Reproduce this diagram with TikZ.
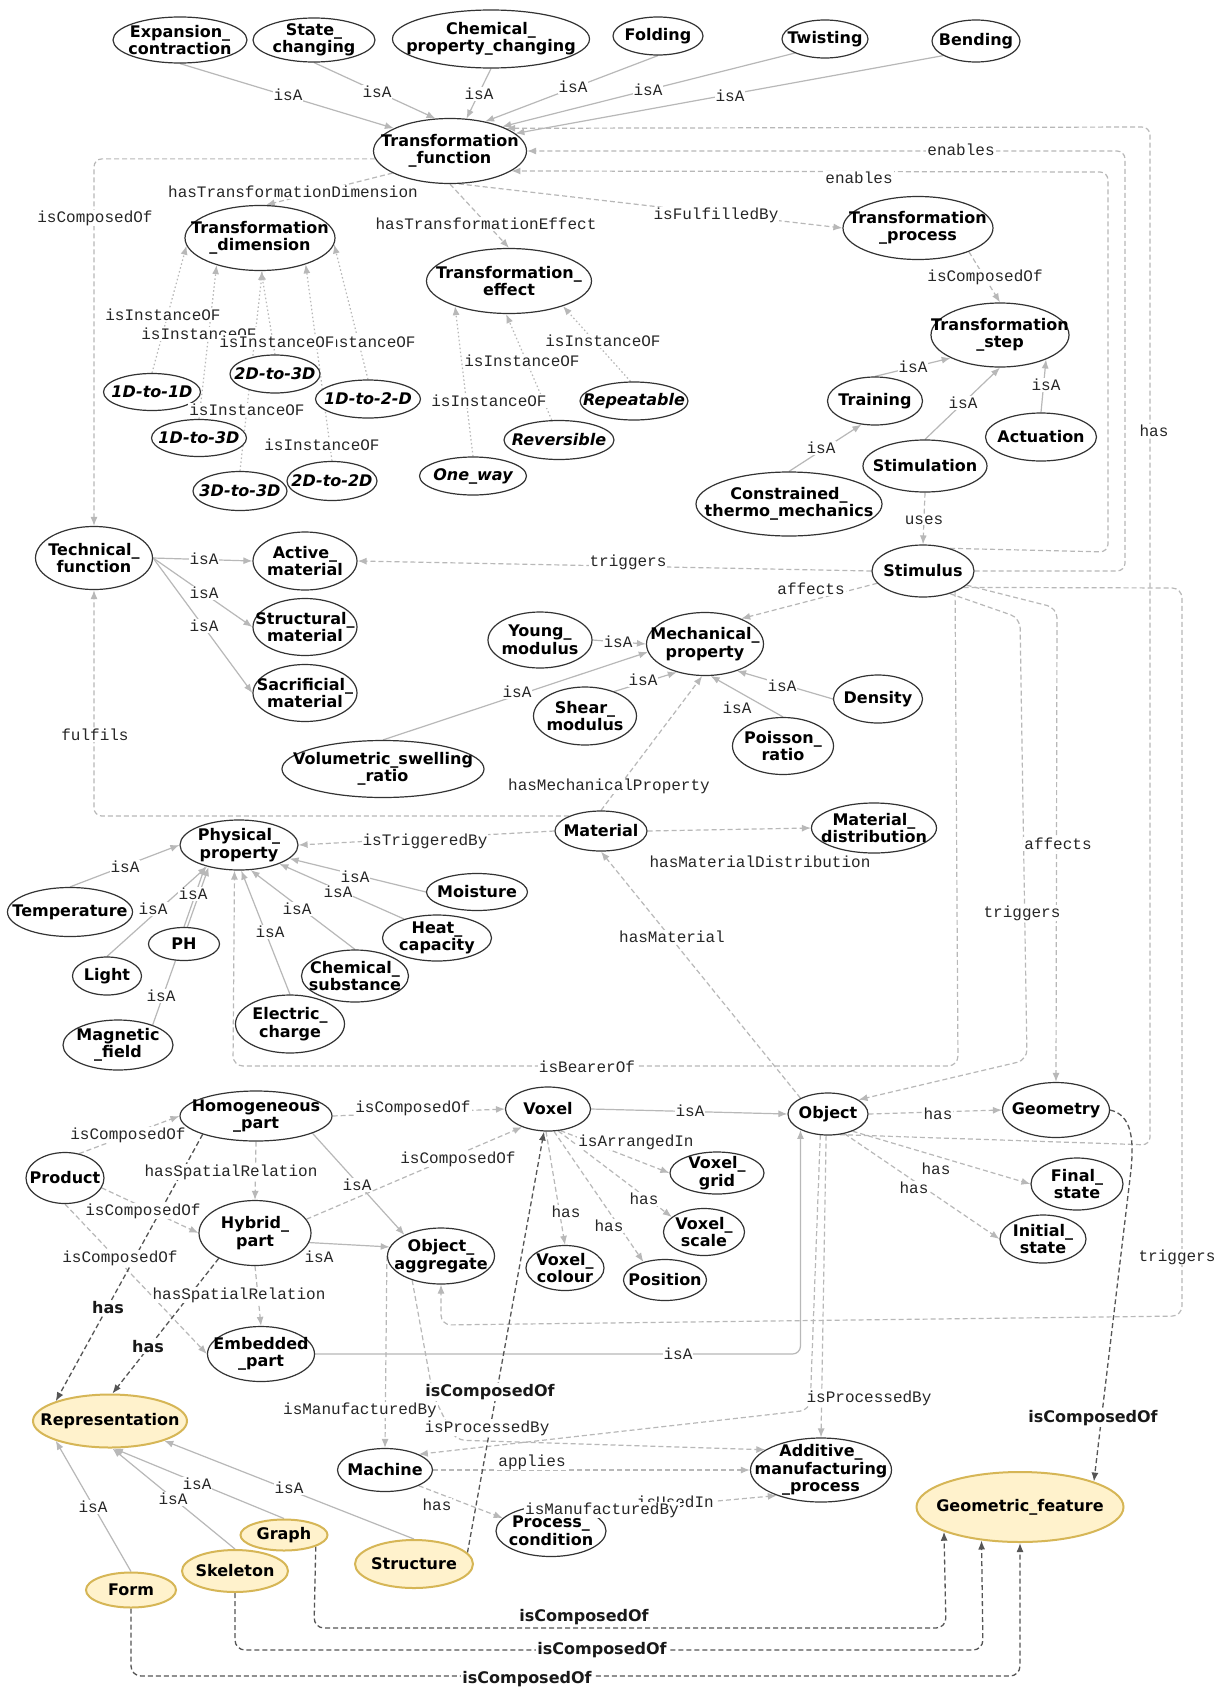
\documentclass[tikz,border=0pt]{standalone}
\usepackage{fontspec}
\usetikzlibrary{shapes.geometric,arrows.meta}
\newfontfamily\nfont{DejaVu Sans}
\newfontfamily\mfont{Liberation Mono}
\definecolor{eg}{HTML}{B8B8B8}
\definecolor{dk}{HTML}{555555}
\definecolor{yf}{HTML}{FFF2CC}
\definecolor{yd}{HTML}{D6B656}
\pgfdeclarelayer{bg}
\pgfsetlayers{bg,main}
\tikzset{
  cls/.style={ellipse, draw=black!80, line width=1.2pt, fill=white, inner sep=0pt},
  ycls/.style={ellipse, fill=yf, draw=yd, line width=2pt, inner sep=0pt},
  ntext/.style={align=center, inner sep=0pt, font=\nfont\bfseries\fontsize{16}{17.5}\selectfont},
  lab/.style={font=\mfont\fontsize{16}{17}\selectfont, fill=white, inner sep=1pt, text=black!85},
  blab/.style={font=\nfont\bfseries\fontsize{16}{17}\selectfont, fill=white, inner sep=1pt, text=black!90},
  arr/.style={-{Latex[length=9pt,width=7pt]}},
  isa/.style={draw=eg, line width=1.2pt, arr},
  rel/.style={isa, dash pattern=on 5pt off 3pt},
  inst/.style={isa, dash pattern=on 1.5pt off 2.5pt},
  dkr/.style={draw=dk, line width=1.3pt, dash pattern=on 5pt off 3pt, arr},
}
\newcommand\onode[6][cls]{\node[#1,minimum width=#4pt,minimum height=#5pt] (#2) at (#3) {};\node[ntext] at (#2.center) {#6};}
\begin{document}
\begin{tikzpicture}[x=1pt,y=-1pt]
\useasboundingbox (0,0) rectangle (1217,1689);
% ---------------- nodes
\onode{exp}{180,40}{134}{46}{Expansion\_\\contraction}
\onode{stc}{314,40}{122}{44}{State\_\\changing}
\onode{chp}{491,39}{197}{58}{Chemical\_\\property\_changing}
\onode{fold}{658,36}{90}{38}{Folding}
\onode{twi}{825,39}{86}{38}{Twisting}
\onode{bend}{976,41}{88}{42}{Bending}
\onode{tf}{450,151}{153}{65}{Transformation\\\_function}
\onode{td}{260,238}{150}{65}{Transformation\\\_dimension}
\onode{te}{509,281}{165}{65}{Transformation\_\\effect}
\onode{tp}{918,228}{150}{63}{Transformation\\\_process}
\onode{ts}{1000,335}{138}{64}{Transformation\\\_step}
\onode{d11}{152,392}{97}{37}{\itshape 1D-to-1D}
\onode{d23}{275,374}{90}{38}{\itshape 2D-to-3D}
\onode{d12}{368,399}{105}{38}{\itshape 1D-to-2-D}
\onode{d13}{199,438}{95}{37}{\itshape 1D-to-3D}
\onode{d33}{240,491}{94}{39}{\itshape 3D-to-3D}
\onode{d22}{332,481}{90}{39}{\itshape 2D-to-2D}
\onode{onew}{473,476}{107}{38}{\itshape One\_way}
\onode{rev}{559,440}{110}{39}{\itshape Reversible}
\onode{rep}{634,401}{108}{38}{\itshape Repeatable}
\onode{train}{875,401}{95}{48}{Training}
\onode{stim}{925,466}{124}{52}{Stimulation}
\onode{act}{1041,437}{111}{48}{Actuation}
\onode{ctm}{789,504}{186}{64}{Constrained\_\\thermo\_mechanics}
\onode{stl}{923,571}{102}{52}{Stimulus}
\onode{tech}{94,558}{117}{63}{Technical\_\\function}
\onode{actm}{305,561}{104}{58}{Active\_\\material}
\onode{strm}{305,627}{104}{57}{Structural\_\\material}
\onode{sacm}{305,693}{104}{57}{Sacrificial\_\\material}
\onode{young}{540,640}{104}{56}{Young\_\\modulus}
\onode{mp}{705,644}{117}{63}{Mechanical\_\\property}
\onode{shear}{585,716}{103}{58}{Shear\_\\modulus}
\onode{dens}{878,699}{89}{48}{Density}
\onode{pois}{783,746}{101}{57}{Poisson\_\\ratio}
\onode{vol}{383,769}{202}{57}{Volumetric\_swelling\\\_ratio}
\onode{mat}{601,831}{92}{40}{Material}
\onode{md}{874,828}{125}{50}{Material\_\\distribution}
\onode{pp}{239,845}{118}{50}{Physical\_\\property}
\onode{temp}{70,912}{125}{49}{Temperature}
\onode{moist}{477,892}{101}{37}{Moisture}
\onode{ph}{184,944}{71}{33}{PH}
\onode{light}{107,976}{69}{38}{Light}
\onode{heat}{437,938}{109}{46}{Heat\_\\capacity}
\onode{chs}{355,976}{107}{52}{Chemical\_\\substance}
\onode{elc}{290,1024}{109}{58}{Electric\_\\charge}
\onode{mag}{118,1045}{110}{50}{Magnetic\\\_field}
\onode{hp}{256,1116}{152}{50}{Homogeneous\\\_part}
\onode{vox}{548,1109}{85}{44}{Voxel}
\onode{obj}{828,1114}{80}{42}{Object}
\onode{geom}{1056,1110}{107}{55}{Geometry}
\onode{prod}{65,1178}{78}{51}{Product}
\onode{hyb}{255,1233}{112}{65}{Hybrid\_\\part}
\onode{vg}{717,1173}{94}{42}{Voxel\_\\grid}
\onode{vs}{704,1232}{81}{47}{Voxel\_\\scale}
\onode{oa}{441,1256}{107}{56}{Object\_\\aggregate}
\onode{vc}{565,1268}{78}{45}{Voxel\_\\colour}
\onode{pos}{665,1280}{83}{41}{Position}
\onode{fin}{1077,1184}{92}{52}{Final\_\\state}
\onode{ini}{1043,1239}{86}{48}{Initial\_\\state}
\onode{emb}{261,1354}{107}{55}{Embedded\\\_part}
\onode[ycls]{repr}{110,1421}{154}{53}{Representation}
\onode{mach}{385,1470}{95}{43}{Machine}
\onode{am}{821,1470}{141}{64}{Additive\_\\manufacturing\\\_process}
\onode{pc}{551,1531}{110}{51}{Process\_\\condition}
\onode[ycls]{gf}{1020,1507}{207}{70}{Geometric\_feature}
\onode[ycls]{graph}{284,1535}{87}{31}{Graph}
\onode[ycls]{skel}{235,1571}{106}{42}{Skeleton}
\onode[ycls]{form}{131,1590}{90}{35}{Form}
\onode[ycls]{struc}{414,1564}{118}{48}{Structure}
% ---------------- edges
\begin{pgfonlayer}{bg}
\fill[white] (0,0) rectangle (1217,1689);
\draw[isa] (exp.south) -- (tf.158);
\draw[isa] (stc.south) -- (tf.114);
\draw[isa] (chp.south) -- (tf.63);
\draw[isa] (fold.south) -- (tf.40);
\draw[isa] (twi.205) -- (tf.25);
\draw[isa] (bend.204) -- (tf.15);
\draw[rel, rounded corners=8pt] (obj.-60) -- (1150,1145) -- (1150,127) -- (tf.22);
\draw[rel, rounded corners=8pt] (stl.east) -- (1125,571) -- (1125,151) -- (tf.east);
\draw[rel, rounded corners=8pt] (stl.40) -- (1108,552) -- (1108,172) -- (tf.-18);
\draw[rel, rounded corners=8pt] (tf.186) -| (tech.north);
\draw[rel] (tf.201) -- (td.80);
\draw[rel] (tf.south) -- (te.north);
\draw[rel] (tf.-75) -- (tp.west);
\draw[rel] (tp.-25) -- (ts.north);
\draw[isa] (train.north) -- (ts.205);
\draw[isa] (stim.north) -- (ts.south);
\draw[isa] (act.north) -- (ts.-28);
\draw[isa] (ctm.north) -- (train.-120);
\draw[rel] (stim.south) -- (stl.north);
\draw[rel] (stl.west) -- (actm.east);
\draw[rel] (stl.195) -- (mp.35);
\draw[rel, rounded corners=10pt] (stl.-22) -- (1182,588) -- (1182,1316) -- (441,1325) -- (oa.south);
\draw[rel, rounded corners=10pt] (stl.-40) -- (1020,618) -- (1027,1060) -- (obj.25);
\draw[rel, rounded corners=10pt] (stl.-18) -- (1057,608) -- (geom.north);
\draw[rel, rounded corners=10pt] (stl.-33) -- (958,1066) -- (233,1066) -- (pp.-100);
\draw[isa] (tech.east) -- (actm.west);
\draw[isa] (tech.east) -- (strm.west);
\draw[isa] (tech.east) -- (sacm.west);
\draw[inst] (d11.north) -- (td.186);
\draw[inst] (d13.north) -- (td.212);
\draw[inst] (d23.north) -- (td.-88);
\draw[inst] (d33.north) -- (td.-86);
\draw[inst] (d22.north) -- (td.-30);
\draw[inst] (d12.north) -- (td.-5);
\draw[inst] (onew.north) -- (te.205);
\draw[inst] (rev.110) -- (te.-95);
\draw[inst] (rep.100) -- (te.-25);
\draw[isa] (young.east) -- (mp.west);
\draw[isa] (shear.40) -- (mp.225);
\draw[isa] (vol.north) -- (mp.188);
\draw[isa] (dens.west) -- (mp.-40);
\draw[isa] (pois.north) -- (mp.-80);
\draw[rel] (mat.north) -- (mp.-95);
\draw[rel] (mat.west) -- (pp.east);
\draw[rel] (mat.east) -- (md.west);
\draw[rel, rounded corners=8pt] (mat.155) -| (tech.south);
\draw[rel] (obj.150) -- (mat.south);
\draw[isa] (temp.north) -- (pp.west);
\draw[isa] (ph.north) -- (pp.212);
\draw[isa] (light.north) -- (pp.214);
\draw[isa] (mag.30) -- (pp.216);
\draw[isa] (moist.west) -- (pp.-15);
\draw[isa] (heat.150) -- (pp.-25);
\draw[isa] (chs.north) -- (pp.-65);
\draw[isa] (elc.north) -- (pp.-85);
\draw[rel] (prod.60) -- (hp.west);
\draw[rel] (prod.-15) -- (hyb.west);
\draw[rel] (prod.south) -- (emb.west);
\draw[rel] (hp.south) -- (hyb.north);
\draw[rel] (hyb.south) -- (emb.north);
\draw[rel] (hp.east) -- (vox.west);
\draw[rel] (hyb.15) -- (vox.215);
\draw[isa] (hp.-17) -- (oa.150);
\draw[isa] (hyb.-10) -- (oa.170);
\draw[isa] (vox.east) -- (obj.west);
\draw[isa, rounded corners=8pt] (emb.east) -| (obj.-150);
\draw[rel] (vox.-60) -- (vg.west);
\draw[rel] (vox.-65) -- (vs.155);
\draw[rel] (vox.-95) -- (vc.north);
\draw[rel] (vox.-75) -- (pos.140);
\draw[rel] (obj.east) -- (geom.west);
\draw[rel] (obj.-35) -- (fin.west);
\draw[rel] (obj.-50) -- (ini.west);
\draw[rel] (obj.-95) -- (am.north);
\draw[rel, rounded corners=10pt] (obj.-110) -- (810,1410) -- (mach.25);
\draw[rel] (oa.west) -- (mach.north);
\draw[rel, rounded corners=10pt] (oa.-140) -- (433,1395) -- (455,1440) -- (am.160);
\draw[rel] (mach.east) -- (am.west);
\draw[rel] (mach.-25) -- (pc.165);
\draw[rel] (pc.25) -- (am.-150);
\draw[dkr] (hp.199) -- (repr.160);
\draw[dkr] (hyb.215) -- (repr.85);
\draw[dkr] (struc.12) -- (vox.-100);
\draw[dkr] (geom.east) .. controls (1132,1115) and (1134,1140) .. (1131,1170) -- (gf.19);
\draw[dkr, rounded corners=10pt] (graph.-20) -- (314,1628) -- (946,1628) -- (gf.198);
\draw[dkr, rounded corners=10pt] (skel.south) -- (235,1650) -- (983,1650) -- (gf.221);
\draw[dkr, rounded corners=10pt] (form.south) -- (131,1676) -- (1020,1676) -- (gf.south);
\draw[isa] (form.north) -- (repr.200);
\draw[isa] (skel.north) -- (repr.-85);
\draw[isa] (graph.north) -- (repr.-82);
\draw[isa] (struc.north) -- (repr.-20);
\end{pgfonlayer}
% ---------------- labels
\node[lab] at (288,95) {isA};
\node[lab] at (377,92) {isA};
\node[lab] at (479,94) {isA};
\node[lab] at (573,87) {isA};
\node[lab] at (648,90) {isA};
\node[lab] at (730,96) {isA};
\node[lab] at (293,192) {hasTransformationDimension};
\node[lab] at (95,218) {isComposedOf};
\node[lab] at (486,224) {hasTransformationEffect};
\node[lab] at (716,215) {isFulfilledBy};
\node[lab] at (961,150) {enables};
\node[lab] at (859,178) {enables};
\node[lab] at (985,277) {isComposedOf};
\node[lab] at (163,315) {isInstanceOF};
\node[lab] at (199,334) {isInstanceOF};
\node[lab] at (358,342) {isInstanceOF};
\node[lab] at (277,342) {isInstanceOF};
\node[lab] at (247,410) {isInstanceOF};
\node[lab] at (322,445) {isInstanceOF};
\node[lab] at (603,341) {isInstanceOF};
\node[lab] at (522,361) {isInstanceOF};
\node[lab] at (489,401) {isInstanceOF};
\node[lab] at (913,367) {isA};
\node[lab] at (963,403) {isA};
\node[lab] at (1046,385) {isA};
\node[lab] at (821,448) {isA};
\node[lab] at (924,520) {uses};
\node[lab] at (628,562) {triggers};
\node[lab] at (811,589) {affects};
\node[lab] at (204,559) {isA};
\node[lab] at (204,593) {isA};
\node[lab] at (204,626) {isA};
\node[lab] at (618,642) {isA};
\node[lab] at (643,680) {isA};
\node[lab] at (517,692) {isA};
\node[lab] at (782,686) {isA};
\node[lab] at (737,708) {isA};
\node[lab] at (95,735) {fulfils};
\node[lab] at (609,786) {hasMechanicalProperty};
\node[lab] at (425,841) {isTriggeredBy};
\node[lab] at (760,862) {hasMaterialDistribution};
\node[lab] at (1154,431) {has};
\node[lab] at (1058,844) {affects};
\node[lab] at (1022,913) {triggers};
\node[lab] at (672,937) {hasMaterial};
\node[lab] at (125,867) {isA};
\node[lab] at (193,894) {isA};
\node[lab] at (153,909) {isA};
\node[lab] at (355,877) {isA};
\node[lab] at (338,892) {isA};
\node[lab] at (297,909) {isA};
\node[lab] at (270,932) {isA};
\node[lab] at (161,996) {isA};
\node[lab] at (587,1067) {isBearerOf};
\node[lab] at (413,1108) {isComposedOf};
\node[lab] at (690,1111) {isA};
\node[lab] at (636,1142) {isArrangedIn};
\node[lab] at (938,1114) {has};
\node[lab] at (128,1135) {isComposedOf};
\node[lab] at (231,1172) {hasSpatialRelation};
\node[lab] at (143,1211) {isComposedOf};
\node[lab] at (357,1185) {isA};
\node[lab] at (458,1159) {isComposedOf};
\node[lab] at (644,1199) {has};
\node[lab] at (566,1212) {has};
\node[lab] at (609,1226) {has};
\node[lab] at (936,1169) {has};
\node[lab] at (914,1188) {has};
\node[lab] at (120,1258) {isComposedOf};
\node[lab] at (319,1257) {isA};
\node[lab] at (1177,1257) {triggers};
\node[lab] at (239,1295) {hasSpatialRelation};
\node[lab] at (678,1354) {isA};
\node[lab] at (360,1410) {isManufacturedBy};
\node[lab] at (487,1428) {isProcessedBy};
\node[lab] at (869,1398) {isProcessedBy};
\node[lab] at (532,1462) {applies};
\node[lab] at (437,1505) {has};
\node[lab, anchor=east] at (715,1502) {isUsedIn};
\node[lab] at (602,1510) {isManufacturedBy};
\node[lab] at (93,1507) {isA};
\node[lab] at (197,1484) {isA};
\node[lab] at (173,1499) {isA};
\node[lab] at (289,1488) {isA};
\node[blab] at (108,1308) {has};
\node[blab] at (148,1347) {has};
\node[blab] at (490,1392) {isComposedOf};
\node[blab] at (1093,1418) {isComposedOf};
\node[blab] at (584,1617) {isComposedOf};
\node[blab] at (602,1650) {isComposedOf};
\node[blab] at (527,1679) {isComposedOf};
\end{tikzpicture}
\end{document}
